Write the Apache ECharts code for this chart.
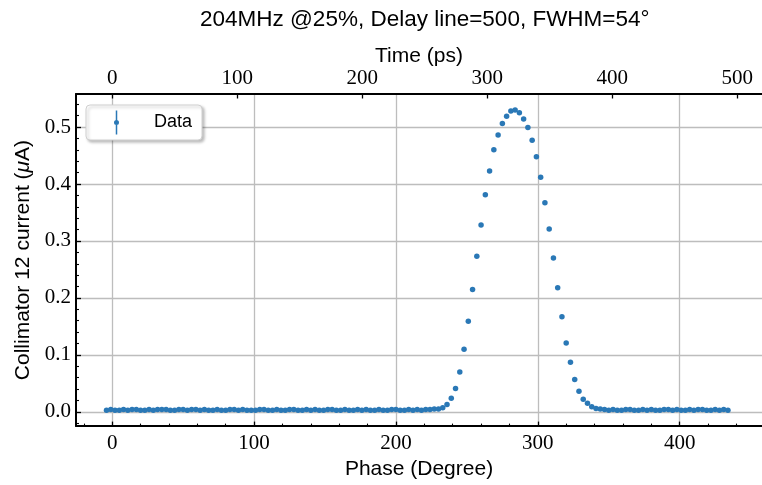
<!DOCTYPE html>
<html>
<head>
<meta charset="utf-8">
<script src="https://cdn.jsdelivr.net/npm/echarts@6/dist/echarts.min.js"></script>
<style>
  html, body { margin: 0; padding: 0; background: #ffffff; }
  #chart { width: 762px; height: 485px; }
</style>
</head>
<body>
<div id="chart"></div>
<script>
// Phase scan of collimator 12 current, 204 MHz buncher at 25 %, delay line 500
const phaseDeg = [
  -4, -1, 2, 5, 8, 11, 14, 17, 20, 23, 26, 29, 32, 35, 38, 41, 44, 47, 50, 53,
  56, 59, 62, 65, 68, 71, 74, 77, 80, 83, 86, 89, 92, 95, 98, 101, 104, 107, 110, 113,
  116, 119, 122, 125, 128, 131, 134, 137, 140, 143, 146, 149, 152, 155, 158, 161, 164, 167, 170, 173,
  176, 179, 182, 185, 188, 191, 194, 197, 200, 203, 206, 209, 212, 215, 218, 221, 224, 227, 230, 233,
  236, 239, 242, 245, 248, 251, 254, 257, 260, 263, 266, 269, 272, 275, 278, 281, 284, 287, 290, 293,
  296, 299, 302, 305, 308, 311, 314, 317, 320, 323, 326, 329, 332, 335, 338, 341, 344, 347, 350, 353,
  356, 359, 362, 365, 368, 371, 374, 377, 380, 383, 386, 389, 392, 395, 398, 401, 404, 407, 410, 413,
  416, 419, 422, 425, 428, 431, 434
];

// collimator current in µA, one value per phase step
const currentUA = [
  // flat region before the bunch
  0.003, 0.004, 0.003, 0.003, 0.004, 0.003, 0.004, 0.004, 0.003, 0.003,
  0.004, 0.003, 0.004, 0.004, 0.004, 0.003, 0.003, 0.004, 0.004, 0.003,
  0.004, 0.004, 0.003, 0.004, 0.003, 0.003, 0.004, 0.003, 0.003, 0.004,
  0.004, 0.003, 0.004, 0.003, 0.003, 0.003, 0.004, 0.004, 0.003, 0.003,
  0.004, 0.003, 0.003, 0.004, 0.004, 0.003, 0.003, 0.004, 0.003, 0.004,
  0.003, 0.003, 0.004, 0.004, 0.003, 0.003, 0.004, 0.003, 0.003, 0.004,
  0.003, 0.004, 0.003, 0.003, 0.004, 0.003, 0.003, 0.004, 0.004, 0.003,
  0.003, 0.004, 0.003, 0.004, 0.003, 0.004, 0.004, 0.005, 0.005,
  // peak, 233 .. 344 deg
  0.007, 0.013, 0.024, 0.041, 0.070, 0.110, 0.159, 0.215, 0.273, 0.328,
  0.381, 0.423, 0.460, 0.486, 0.506, 0.519, 0.528, 0.530, 0.525, 0.514,
  0.499, 0.477, 0.448, 0.412, 0.367, 0.321, 0.270, 0.218, 0.167, 0.121,
  0.087, 0.057, 0.036, 0.022, 0.015, 0.009, 0.006, 0.005,
  // flat region after the bunch
  0.004, 0.003, 0.004, 0.003, 0.003, 0.004, 0.004, 0.003, 0.003, 0.004,
  0.003, 0.004, 0.003, 0.003, 0.004, 0.004, 0.003, 0.004, 0.003, 0.003,
  0.004, 0.003, 0.004, 0.004, 0.003, 0.003, 0.004, 0.003, 0.004, 0.003
];

// tick positions
const phaseMajorTicks = [0, 100, 200, 300, 400];
const phaseMinorTicks = [-20, 20, 40, 60, 80, 120, 140, 160, 180, 220, 240, 260, 280,
  320, 340, 360, 380, 420, 440];
const currentMajorTicks = [0, 0.1, 0.2, 0.3, 0.4, 0.5];
const currentMinorTicks = [-0.02, 0.02, 0.04, 0.06, 0.08, 0.12, 0.14, 0.16, 0.18,
  0.22, 0.24, 0.26, 0.28, 0.32, 0.34, 0.36, 0.38, 0.42, 0.44, 0.46, 0.48, 0.52, 0.54];
const timeTicks = [0, 100, 200, 300, 400, 500];

const PHASE_MIN = -25.5, PHASE_MAX = 458;
const CUR_MIN = -0.025, CUR_MAX = 0.558;
const PS_PER_DEG = 1.135;   // delay-line time per phase degree

const SERIF = '"Liberation Serif", "DejaVu Serif", serif';
const SANS = '"Liberation Sans", Arial, sans-serif';
const BLUE = '#2a78b6';

const points = phaseDeg.map((p, i) => [p, currentUA[i]]);

const labelStyle = { fontFamily: SERIF, fontSize: 21, color: '#000' };
const spine = { show: true, onZero: false, lineStyle: { color: '#000', width: 2 } };
const noLine = { show: false, onZero: false };
const grid = { show: true, lineStyle: { color: '#bdbdbd', width: 1.3 } };

const chart = echarts.init(document.getElementById('chart'), null, { renderer: 'canvas' });

chart.setOption({
  animation: false,
  backgroundColor: '#ffffff',
  title: {
    text: '204MHz @25%, Delay line=500, FWHM=54°',
    left: 200,
    top: 8,
    padding: 0,
    textStyle: { fontFamily: SANS, fontSize: 22.5, fontWeight: 'normal', color: '#000' }
  },
  legend: {
    data: ['Data'],
    left: 86,
    top: 105,
    padding: [5.5, 10, 5.5, 28],
    itemWidth: 5,
    itemHeight: 24,
    icon: 'path://M1.75,0L3.25,0L3.25,24L1.75,24Z M0,12a2.5,2.5 0 1,1 5,0a2.5,2.5 0 1,1 -5,0Z',
    textStyle: { fontFamily: SANS, fontSize: 18, color: '#000', padding: [0, 0, 0, 30] },
    backgroundColor: '#ffffff',
    borderColor: '#d0d0d0',
    borderWidth: 1,
    borderRadius: 4,
    shadowBlur: 3,
    shadowColor: 'rgba(0,0,0,0.25)',
    shadowOffsetX: 2,
    shadowOffsetY: 2
  },
  grid: { left: 76, top: 94, right: -4, bottom: 58, containLabel: false },
  xAxis: [
    {
      type: 'value', position: 'bottom', min: PHASE_MIN, max: PHASE_MAX,
      name: 'Phase (Degree)', nameLocation: 'middle', nameGap: 30,
      nameTextStyle: { fontFamily: SANS, fontSize: 21, color: '#000' },
      axisLine: spine,
      axisTick: { show: true, inside: true, length: 4.5, customValues: phaseMajorTicks,
        lineStyle: { color: '#000', width: 1.3 } },
      axisLabel: { show: true, customValues: phaseMajorTicks, margin: 7, ...labelStyle,
        formatter: v => String(v) },
      splitLine: grid
    },
    {
      type: 'value', position: 'bottom', min: PHASE_MIN, max: PHASE_MAX,
      axisLine: noLine,
      axisTick: { show: true, inside: true, length: 2.5, customValues: phaseMinorTicks,
        lineStyle: { color: '#000', width: 1.1 } },
      axisLabel: { show: false },
      splitLine: { show: false }
    },
    {
      type: 'value', position: 'top',
      min: PHASE_MIN * PS_PER_DEG, max: PHASE_MAX * PS_PER_DEG,
      name: 'Time (ps)', nameLocation: 'middle', nameGap: 27, nameMoveOverlap: false,
      nameTextStyle: { fontFamily: SANS, fontSize: 21, color: '#000' },
      axisLine: spine,
      axisTick: { show: true, inside: true, length: 4.5, customValues: timeTicks,
        lineStyle: { color: '#000', width: 1.3 } },
      axisLabel: { show: true, customValues: timeTicks, margin: 5, ...labelStyle,
        formatter: v => String(v) },
      splitLine: { show: false }
    }
  ],
  yAxis: [
    {
      type: 'value', position: 'left', min: CUR_MIN, max: CUR_MAX,
      name: 'Collimator 12 current ({i|μ}A)', nameLocation: 'middle', nameGap: 42,
      nameTextStyle: { fontFamily: SANS, fontSize: 21, color: '#000',
        rich: { i: { fontFamily: SANS, fontSize: 21, fontStyle: 'italic', color: '#000' } } },
      axisLine: spine,
      axisTick: { show: true, inside: true, length: 5, customValues: currentMajorTicks,
        lineStyle: { color: '#000', width: 1.3 } },
      axisLabel: { show: true, customValues: currentMajorTicks, margin: 5, ...labelStyle,
        formatter: v => v.toFixed(1) },
      splitLine: grid
    },
    {
      type: 'value', position: 'left', min: CUR_MIN, max: CUR_MAX,
      axisLine: noLine,
      axisTick: { show: true, inside: true, length: 3, customValues: currentMinorTicks,
        lineStyle: { color: '#000', width: 1.1 } },
      axisLabel: { show: false },
      splitLine: { show: false }
    }
  ],
  series: [
    {
      name: 'Data',
      type: 'scatter',
      xAxisIndex: 0,
      yAxisIndex: 0,
      data: points,
      symbol: 'circle',
      symbolSize: 5.5,
      itemStyle: { color: BLUE, opacity: 1 },
      emphasis: { disabled: true },
      z: 5
    }
  ]
});
</script>
</body>
</html>
